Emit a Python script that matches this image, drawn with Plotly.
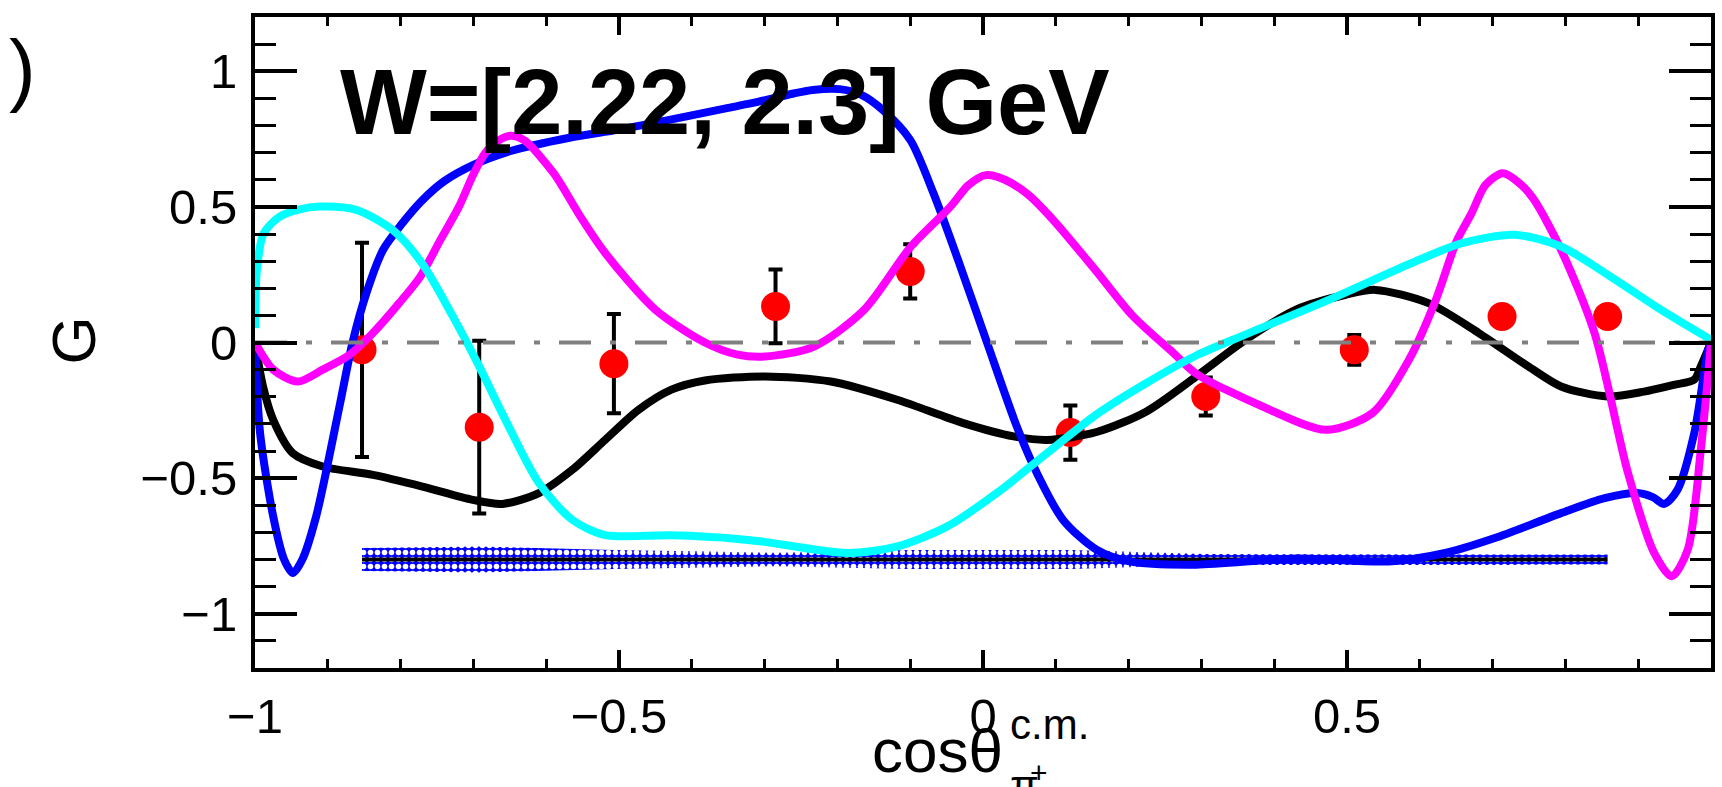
import plotly.graph_objects as go

# ---- measured beam-target asymmetry G, W = [2.22, 2.3] GeV ----
cos_theta = [-0.853, -0.692, -0.507, -0.285, -0.100, 0.120, 0.306, 0.510, 0.713, 0.858]
g_value = [-0.027, -0.312, -0.078, 0.133, 0.262, -0.332, -0.199, -0.027, 0.096, 0.096]
g_stat_err = [0.395, 0.318, 0.183, 0.136, 0.100, 0.100, 0.070, 0.055, 0.030, 0.030]
g_sys_err = [0.042, 0.048, 0.035, 0.025, 0.035, 0.035, 0.020, 0.020, 0.020, 0.018]
sys_band_base = -0.8

# ---- model curves ----
blue_x = [-1.0, -0.993, -0.975, -0.960, -0.948, -0.935, -0.916, -0.884, -0.866, -0.847,
          -0.824, -0.799, -0.770, -0.740, -0.700, -0.650, -0.568, -0.500, -0.419, -0.350,
          -0.308, -0.260, -0.234, -0.197, -0.167, -0.138, -0.100, -0.068, -0.031, 0.0055,
          0.0465, 0.074, 0.110, 0.156, 0.201, 0.293, 0.430, 0.557, 0.635, 0.703,
          0.794, 0.854, 0.899, 0.920, 0.936, 0.954, 0.977, 0.996, 1.0]
blue_y = [0.0, -0.334, -0.641, -0.800, -0.850, -0.800, -0.641, -0.236, 0.0, 0.182,
          0.342, 0.435, 0.525, 0.595, 0.655, 0.705, 0.755, 0.785, 0.827, 0.865,
          0.888, 0.918, 0.931, 0.934, 0.913, 0.858, 0.747, 0.550, 0.280, 0.0,
          -0.310, -0.481, -0.654, -0.764, -0.807, -0.819, -0.796, -0.807, -0.776, -0.721,
          -0.629, -0.574, -0.555, -0.570, -0.595, -0.543, -0.334, -0.027, 0.0]

magenta_x = [-1.0, -0.975, -0.941, -0.907, -0.870, -0.838, -0.802, -0.773, -0.745, -0.720,
             -0.700, -0.684, -0.665, -0.649, -0.630, -0.590, -0.553, -0.519, -0.450, -0.382,
             -0.337, -0.300, -0.232, -0.163, -0.099, -0.045, -0.020, 0.004, 0.030, 0.062,
             0.097, 0.155, 0.205, 0.262, 0.293, 0.384, 0.471, 0.535, 0.585, 0.622,
             0.650, 0.671, 0.690, 0.714, 0.740, 0.757, 0.794, 0.840, 0.886, 0.922,
             0.946, 0.968, 0.986, 1.0]
magenta_y = [0.0, -0.100, -0.144, -0.100, -0.045, 0.035, 0.145, 0.243, 0.380, 0.500,
             0.620, 0.698, 0.745, 0.762, 0.745, 0.625, 0.464, 0.330, 0.121, 0.0,
             -0.045, -0.052, -0.015, 0.121, 0.354, 0.500, 0.580, 0.617, 0.600, 0.545,
             0.450, 0.265, 0.100, -0.040, -0.115, -0.236, -0.322, -0.260, -0.064, 0.157,
             0.370, 0.476, 0.580, 0.624, 0.580, 0.526, 0.342, 0.035, -0.481, -0.776,
             -0.862, -0.764, -0.395, 0.0]

cyan_x = [-1.0, -0.997, -0.988, -0.966, -0.940, -0.911, -0.861, -0.811, -0.770, -0.729,
          -0.692, -0.656, -0.610, -0.564, -0.519, -0.428, -0.337, -0.300, -0.186, -0.118,
          -0.049, 0.019, 0.088, 0.156, 0.224, 0.293, 0.361, 0.475, 0.589, 0.658,
          0.730, 0.794, 0.862, 0.931, 1.0]
cyan_y = [0.053, 0.280, 0.403, 0.464, 0.490, 0.501, 0.489, 0.415, 0.290, 0.100,
          -0.088, -0.285, -0.518, -0.654, -0.710, -0.711, -0.724, -0.735, -0.776, -0.752,
          -0.678, -0.555, -0.408, -0.265, -0.150, -0.048, 0.030, 0.157, 0.293, 0.366,
          0.397, 0.354, 0.243, 0.121, 0.010]

black_x = [-1.0, -0.989, -0.975, -0.948, -0.907, -0.838, -0.770, -0.701, -0.660, -0.610,
           -0.564, -0.519, -0.473, -0.428, -0.382, -0.300, -0.209, -0.118, -0.027, 0.042,
           0.088, 0.156, 0.224, 0.293, 0.361, 0.430, 0.498, 0.539, 0.612, 0.681,
           0.749, 0.794, 0.858, 0.908, 0.949, 0.977, 0.986, 1.0]
black_y = [0.0, -0.162, -0.285, -0.408, -0.457, -0.488, -0.531, -0.580, -0.595, -0.555,
           -0.469, -0.359, -0.248, -0.174, -0.140, -0.125, -0.144, -0.211, -0.297, -0.346,
           -0.359, -0.330, -0.255, -0.125, 0.010, 0.121, 0.176, 0.194, 0.145, 0.035,
           -0.088, -0.162, -0.199, -0.181, -0.156, -0.137, -0.088, 0.0]

x_tick_vals = [-1, -0.5, 0, 0.5, 1]
x_tick_text = ["\u22121", "\u22120.5", "0", "0.5", ""]
y_tick_vals = [-1, -0.5, 0, 0.5, 1]
y_tick_text = ["\u22121", "\u22120.5", "0", "0.5", "1"]

FONT = "Liberation Sans, Arial, Helvetica, sans-serif"

fig = go.Figure()

# systematic-uncertainty band around the baseline (blue/white chequer-like fill)
band_x = cos_theta + cos_theta[::-1]
band_y = [sys_band_base + s for s in g_sys_err] + [sys_band_base - s for s in g_sys_err[::-1]]
fig.add_trace(go.Scatter(
    x=band_x, y=band_y, mode="lines", fill="toself",
    line=dict(width=0, color="rgba(0,0,255,0)"),
    fillcolor="#0000ff",
    fillpattern=dict(shape=".", fgcolor="#ffffff", bgcolor="#0000ff",
                     fgopacity=1, size=7, solidity=0.5),
    hoverinfo="skip", showlegend=False))
fig.add_trace(go.Scatter(
    x=[cos_theta[0], cos_theta[-1]], y=[sys_band_base, sys_band_base],
    mode="lines", line=dict(color="black", width=4), showlegend=False))

# data points
fig.add_trace(go.Scatter(
    x=cos_theta, y=g_value, mode="markers",
    marker=dict(color="#ff0000", size=29, line=dict(width=0)),
    error_y=dict(type="data", array=g_stat_err, color="black", thickness=4, width=7),
    showlegend=False))

# model curves
for cx, cy, col in [(black_x, black_y, "#000000"),
                    (blue_x, blue_y, "#0000ff"),
                    (magenta_x, magenta_y, "#ff00ff"),
                    (cyan_x, cyan_y, "#00ffff")]:
    fig.add_trace(go.Scatter(
        x=cx, y=cy, mode="lines",
        line=dict(color=col, width=8, shape="spline", smoothing=0.8),
        showlegend=False))

# zero reference line
fig.add_trace(go.Scatter(
    x=[-1, 1], y=[0, 0], mode="lines",
    line=dict(color="#808080", width=4, dash="32px,19px,6px,19px"),
    showlegend=False))

axis_common = dict(
    showline=True, linecolor="black", linewidth=4, mirror="ticks",
    ticks="inside", tickcolor="black", tickwidth=3.5,
    showgrid=False, zeroline=False,
    tickfont=dict(family=FONT, size=49, color="black"),
)

fig.update_xaxes(
    range=[-1, 1], tickvals=x_tick_vals, ticktext=x_tick_text, ticklen=18,
    minor=dict(ticks="inside", ticklen=9, tickwidth=3, tickcolor="black",
               dtick=0.1, tick0=0, showgrid=False),
    ticklabelstandoff=2,
    **axis_common)
fig.update_yaxes(
    range=[-1.2, 1.2], tickvals=y_tick_vals, ticktext=y_tick_text, ticklen=42,
    minor=dict(ticks="inside", ticklen=21, tickwidth=3, tickcolor="black",
               dtick=0.1, tick0=0, showgrid=False),
    ticklabelstandoff=4,
    **axis_common)

annotations = [
    dict(text="<b>W=[2.22, 2.3] GeV</b>", x=0.0568, y=0.8699, xanchor="left",
         yanchor="middle", font=dict(family=FONT, size=92, color="black")),
    dict(text="G", x=-0.1247, y=0.5038, xanchor="center", yanchor="middle",
         textangle=-90, font=dict(family=FONT, size=62, color="black")),
    dict(text=")", x=-0.160, y=0.9209, xanchor="center", yanchor="middle",
         font=dict(family=FONT, size=80, color="black")),
    dict(text="cos\u03b8", x=0.4226, y=-0.1263, xanchor="left", yanchor="middle",
         font=dict(family=FONT, size=62, color="black")),
    dict(text="c.m.", x=0.5171, y=-0.0866, xanchor="left", yanchor="middle",
         font=dict(family=FONT, size=42, color="black")),
    dict(text="\u03c0", x=0.5171, y=-0.1805, xanchor="left", yanchor="middle",
         font=dict(family=FONT, size=42, color="black")),
    dict(text="+", x=0.5384, y=-0.1598, xanchor="center", yanchor="middle",
         font=dict(family=FONT, size=30, color="black")),
]
for a in annotations:
    a.update(xref="paper", yref="paper", showarrow=False)

fig.update_layout(
    width=1722, height=787, autosize=False,
    margin=dict(l=255, r=7, t=17, b=119, pad=0),
    plot_bgcolor="white", paper_bgcolor="white",
    annotations=annotations, showlegend=False,
)

fig.write_html("out.html", config={"displayModeBar": False})
